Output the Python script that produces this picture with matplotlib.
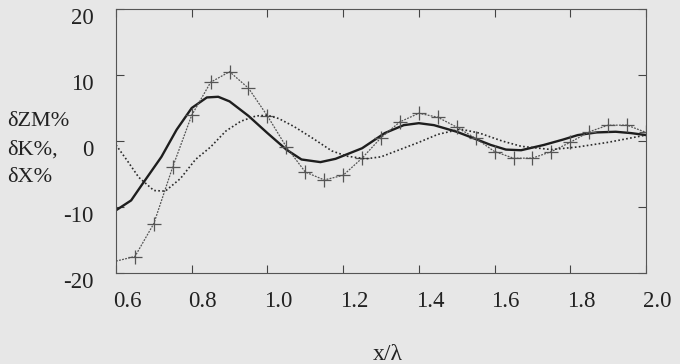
import numpy as np
import matplotlib
matplotlib.use("Agg")
import matplotlib.pyplot as plt
import matplotlib.transforms as mtransforms

plt.rcParams['font.family'] = ['Liberation Serif', 'DejaVu Serif']

# solid thick curve
x_solid = [0.60, 0.64, 0.67, 0.72, 0.76, 0.80, 0.84, 0.87, 0.90, 0.95, 1.00, 1.05,
           1.09, 1.14, 1.18, 1.25, 1.31, 1.36, 1.40, 1.44, 1.50, 1.55, 1.59, 1.63,
           1.67, 1.73, 1.78, 1.82, 1.87, 1.92, 1.96, 2.00]
y_solid = [-10.5, -9.0, -6.5, -2.4, 1.7, 5.0, 6.6, 6.7, 6.0, 3.8, 1.2, -1.3,
           -2.8, -3.2, -2.7, -1.1, 1.2, 2.4, 2.7, 2.4, 1.4, 0.3, -0.6, -1.3,
           -1.4, -0.6, 0.2, 0.9, 1.3, 1.4, 1.2, 0.9]

# curve with + markers
x_mark = [0.60, 0.65, 0.70, 0.75, 0.80, 0.85, 0.90, 0.95, 1.00, 1.05, 1.10, 1.15,
          1.20, 1.25, 1.30, 1.35, 1.40, 1.45, 1.50, 1.55, 1.60, 1.65, 1.70, 1.75,
          1.80, 1.85, 1.90, 1.95, 2.00]
y_mark = [-18.2, -17.5, -12.5, -3.9, 3.9, 8.9, 10.5, 8.0, 3.8, -0.9, -4.7, -5.9,
          -5.2, -2.6, 0.5, 2.9, 4.2, 3.6, 2.1, 0.4, -1.6, -2.6, -2.6, -1.6,
          -0.2, 1.4, 2.4, 2.4, 1.3]

# dotted curve
x_dot = [0.60, 0.63, 0.66, 0.70, 0.73, 0.77, 0.81, 0.85, 0.89, 0.93, 0.97, 1.00,
         1.03, 1.07, 1.12, 1.17, 1.21, 1.26, 1.30, 1.35, 1.40, 1.45, 1.51, 1.56,
         1.62, 1.67, 1.75, 1.82, 1.90, 2.00]
y_dot = [-0.6, -3.0, -5.5, -7.5, -7.6, -5.7, -2.8, -0.9, 1.5, 3.0, 3.8, 3.9,
         3.4, 2.2, 0.4, -1.5, -2.3, -2.7, -2.4, -1.3, -0.2, 1.0, 1.8, 1.2,
         0.0, -0.8, -1.3, -0.9, -0.2, 0.9]

x_ticks = [0.6, 0.8, 1.0, 1.2, 1.4, 1.6, 1.8, 2.0]
y_ticks = [-20, -10, 0, 10, 20]

bg = '#e7e7e7'
fig = plt.figure(figsize=(6.8, 3.64), dpi=100, facecolor=bg)
ax = fig.add_axes([116 / 680, 1 - 273 / 364, 530 / 680, 264 / 364])
ax.set_facecolor(bg)

ax.plot(x_solid, y_solid, color='#1e1e1e', lw=1.7)
ax.plot(x_mark, y_mark, color='#555555', lw=0.9, ls=(0, (1.5, 1)),
        marker='+', markersize=10, mew=0.9, markevery=list(range(1, len(x_mark))))
ax.plot(x_dot, y_dot, color='#2a2a2a', lw=1.2, ls=(0, (1, 1.4)))

ax.set_xlim(0.6, 2.0)
ax.set_ylim(-20, 20)
ax.set_xticks(x_ticks)
ax.set_xticklabels(['%.1f' % v for v in x_ticks])
ax.set_yticks(y_ticks)
ax.set_yticklabels([str(v) for v in y_ticks])
ax.tick_params(direction='in', length=6, width=0.8, color='#444444',
               top=True, right=True, labelsize=16.5, colors='#222222')
ax.tick_params(axis='x', pad=13)
ax.tick_params(axis='y', pad=16)
for s in ax.spines.values():
    s.set_color('#555555')
    s.set_linewidth(0.8)

# scanned labels sit a bit off their ticks
off_x = mtransforms.ScaledTranslation(11 / 100, 0, fig.dpi_scale_trans)
for lab in ax.get_xticklabels():
    lab.set_transform(lab.get_transform() + off_x)
off_y = mtransforms.ScaledTranslation(0, -7 / 100, fig.dpi_scale_trans)
for lab in ax.get_yticklabels():
    lab.set_transform(lab.get_transform() + off_y)

fig.text(7 / 680, 1 - 122 / 364, 'δZM%', fontsize=16, ha='left', va='center', color='#222222')
fig.text(7 / 680, 1 - 150 / 364, 'δK%,', fontsize=16, ha='left', va='center', color='#222222')
fig.text(7 / 680, 1 - 178 / 364, 'δX%', fontsize=16, ha='left', va='center', color='#222222')
fig.text(388 / 680, 1 - 354 / 364, 'x/λ', fontsize=17, ha='center', va='center', color='#222222')

fig.savefig('out.png', dpi=100, facecolor=bg)
